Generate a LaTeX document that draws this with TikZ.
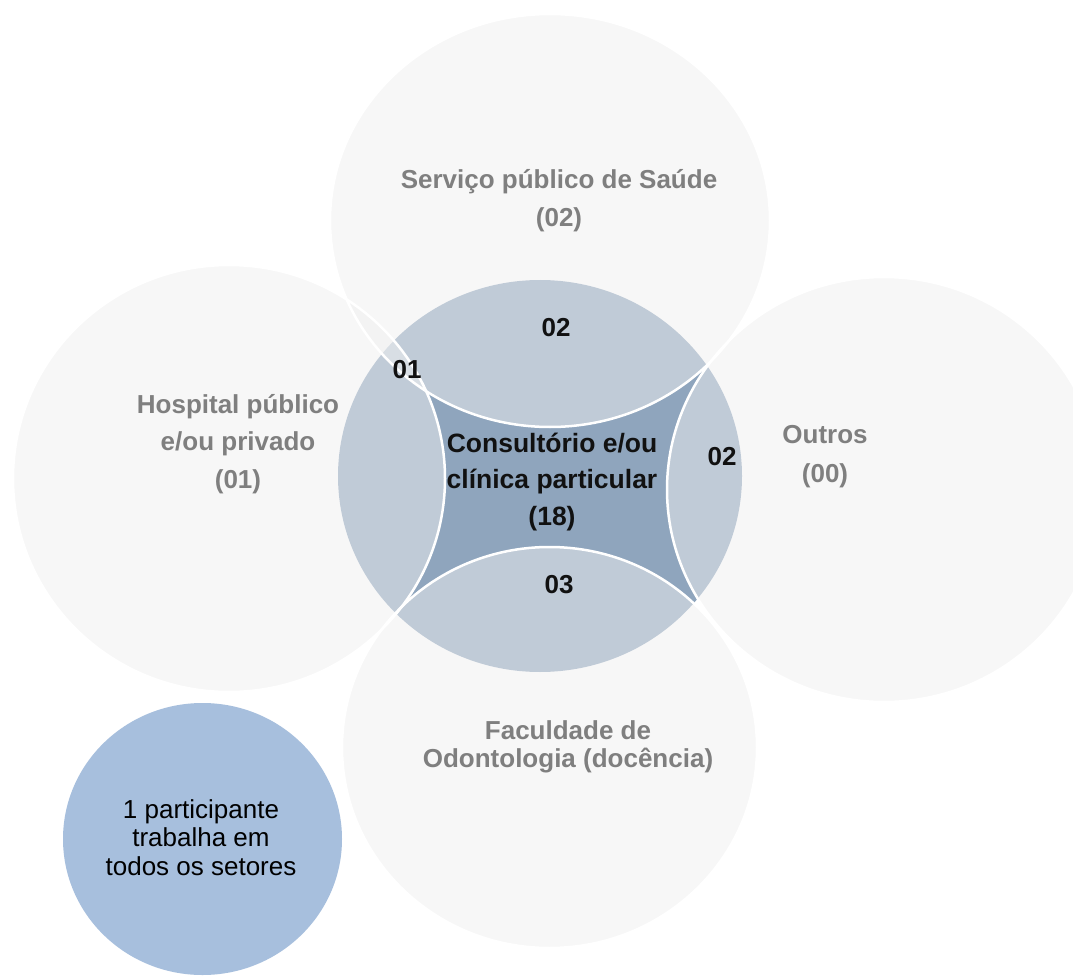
\documentclass[tikz,border=0pt]{standalone}
\usepackage{fontspec}
\setmainfont{Liberation Sans}
\definecolor{sectorfill}{HTML}{F1F1F1}
\definecolor{corefill}{HTML}{8FA5BD}
\definecolor{notefill}{HTML}{A7BFDD}
\definecolor{labelgray}{HTML}{7F7F7F}
\definecolor{numink}{HTML}{111111}
\newcommand{\stack}[1]{\begin{tabular}[t]{@{}c@{}}#1\end{tabular}}
\begin{document}
\begin{tikzpicture}[x=1pt,y=-1pt,
  sector/.style={fill=sectorfill, fill opacity=0.51},
  rim/.style={draw=white, line width=2.5pt},
  grouplabel/.style={anchor=base, inner sep=0pt, text=labelgray,
    font=\fontsize{26}{#1}\selectfont\bfseries},
  grouplabel/.default=38,
  corelabel/.style={anchor=base, inner sep=0pt, text=numink,
    font=\fontsize{26.5}{36.5}\selectfont\bfseries},
  count/.style={anchor=base, inner sep=0pt, text=numink,
    font=\fontsize{26}{30}\selectfont\bfseries},
  notelabel/.style={anchor=base, inner sep=0pt, text=black,
    font=\fontsize{26}{28.5}\selectfont}]
\clip (0,0) rectangle (1073,976);
\fill[white] (0,0) rectangle (1073,976);

% centres of the sets
\coordinate (core)   at (540,476);
\coordinate (public) at (550,220.5);
\coordinate (hosp)   at (229,478.5);
\coordinate (other)  at (884,489.5);
\coordinate (school) at (549.5,747.5);
\coordinate (note)   at (202.5,839);

% central set
\fill[corefill] (core) ellipse[x radius=202, y radius=196];

% surrounding sets, translucent so the overlaps show
\fill[sector] (public) ellipse[x radius=220, y radius=206.5];
\fill[sector] (hosp)   ellipse[x radius=216, y radius=213.5];
\fill[sector] (other)  ellipse[x radius=217, y radius=212.5];
\fill[sector] (school) ellipse[x radius=207.5, y radius=200.5];

\draw[rim] (public) ellipse[x radius=220, y radius=206.5];
\draw[rim] (hosp)   ellipse[x radius=216, y radius=213.5];
\draw[rim] (other)  ellipse[x radius=217, y radius=212.5];
\draw[rim] (school) ellipse[x radius=207.5, y radius=200.5];

% note circle
\fill[notefill] (note) ellipse[x radius=139.5, y radius=136];

% set names
\node[grouplabel=38] (lblpublic) at (559,189) {\stack{Serviço público de Saúde\\(02)}};
\node[grouplabel=37.5] (lblhosp) at (238,413) {\stack{Hospital público\\e/ou privado\\(01)}};
\node[grouplabel=39] (lblother) at (825,443) {\stack{Outros\\(00)}};
\node[grouplabel=28] (lblschool) at (568,739) {\stack{Faculdade de\\Odontologia (docência)}};
\node[corelabel] (lblcore) at (552,452) {\stack{Consultório e/ou\\clínica particular\\(18)}};

% overlap counts
\node[count] (ntop)   at (556,336) {02};
\node[count] (nleft)  at (407,378) {01};
\node[count] (nright) at (722,465) {02};
\node[count] (nbot)   at (559,593) {03};

% note text
\node[notelabel] (lblnote) at (201,818) {\stack{1 participante\\trabalha em\\todos os setores}};
\end{tikzpicture}
\end{document}
